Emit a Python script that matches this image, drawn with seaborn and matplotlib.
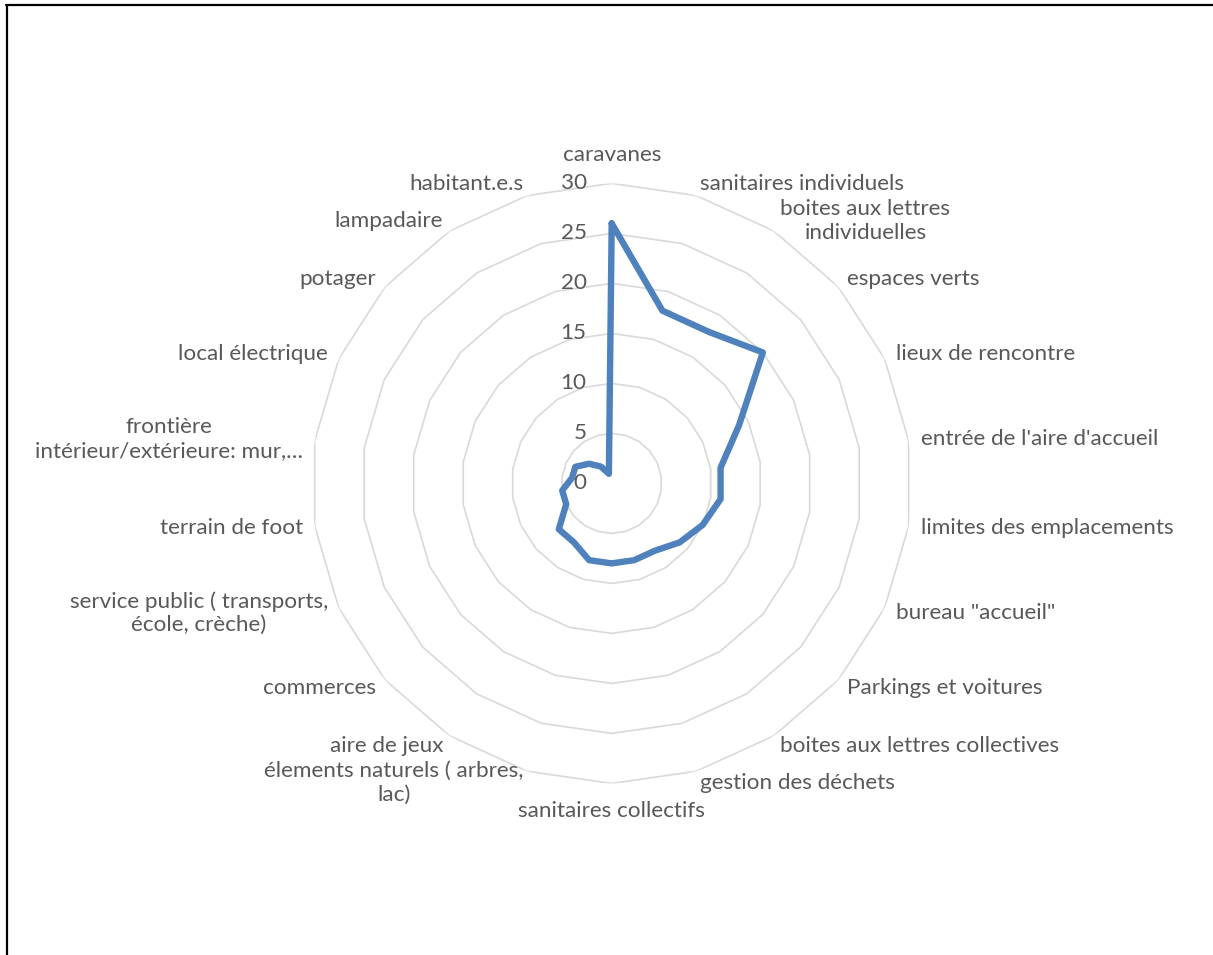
import numpy as np
import pandas as pd
import matplotlib
matplotlib.use("Agg")
import matplotlib.pyplot as plt
from matplotlib.lines import Line2D
import seaborn as sns

# Survey categories, clockwise from the top
categories = [
    "caravanes",
    "sanitaires individuels",
    "boites aux lettres\nindividuelles",
    "espaces verts",
    "lieux de rencontre",
    "entrée de l'aire d'accueil",
    "limites des emplacements",
    "bureau \"accueil\"",
    "Parkings et voitures",
    "boites aux lettres collectives",
    "gestion des déchets",
    "sanitaires collectifs",
    "élements naturels ( arbres,\nlac)",
    "aire de jeux",
    "commerces",
    "service public ( transports,\nécole, crèche)",
    "terrain de foot",
    "frontière\nintérieur/extérieure: mur,…",
    "local électrique",
    "potager",
    "lampadaire",
    "habitant.e.s",
]
counts = [26, 18, 18, 20, 14, 11, 11, 10, 9, 8, 8, 8, 8, 7, 7, 5, 5, 4, 4, 3, 2, 1]
ring_ticks = [0, 5, 10, 15, 20, 25, 30]

sns.set_theme(style="white")
plt.rcParams["font.family"] = ["Lato", "DejaVu Sans"]

TEXT = "#595959"
GRID = "#d9d9d9"
LINE = "#4f81bd"
FS = 16.2

W, H = 1213, 955
fig = plt.figure(figsize=(W / 100, H / 100), dpi=100)
fig.patch.set_facecolor("white")

cx, cy, R = 611.7, 483.4, 300.0
ax = fig.add_axes([(cx - R) / W, (H - cy - R) / H, 2 * R / W, 2 * R / H],
                  projection="polar")
ax.set_theta_zero_location("N")
ax.set_theta_direction(-1)
ax.set_ylim(0, ring_ticks[-1])
ax.grid(False)
ax.set_xticks([])
ax.set_yticks([])
ax.spines["polar"].set_visible(False)
ax.set_facecolor("none")

n = len(categories)
theta = np.arange(n) * 2 * np.pi / n
theta_closed = np.append(theta, 2 * np.pi)

# Polygonal rings at each tick value
for t in ring_ticks[1:]:
    ax.plot(theta_closed, np.full(n + 1, t), color=GRID, lw=1.2, zorder=1)

# Data polygon
df = pd.DataFrame({"theta": theta_closed, "count": counts + counts[:1]})
sns.lineplot(data=df, x="theta", y="count", sort=False, estimator=None,
             ax=ax, color=LINE, lw=4.6, zorder=3)
ax.set_xlabel("")
ax.set_ylabel("")

# Radial tick labels along the vertical axis
for t in ring_ticks:
    ax.annotate(str(t), xy=(0, t), xytext=(-25, 0), textcoords="offset pixels",
                ha="right", va="center", fontsize=FS, color=TEXT,
                annotation_clip=False)

# Category labels just outside the outer ring
for th, lab in zip(theta, categories):
    s, c = np.sin(th), np.cos(th)
    if abs(s) < 0.05:
        ha = "center"
        va = "bottom" if c > 0 else "top"
        pad = 18
    else:
        ha = "left" if s > 0 else "right"
        va = "center"
        pad = 12
    ax.annotate(lab, xy=(th, ring_ticks[-1]), xytext=(pad * s, pad * c),
                textcoords="offset pixels", ha=ha, va=va, fontsize=FS,
                color=TEXT, multialignment="center", annotation_clip=False)

# Chart frame edges
fig.add_artist(Line2D([6 / W, 1], [1 - 5 / H, 1 - 5 / H], transform=fig.transFigure,
                      color="black", lw=1.6))
fig.add_artist(Line2D([7 / W, 7 / W], [0, 1 - 5 / H], transform=fig.transFigure,
                      color="black", lw=1.6))

fig.savefig("out.png", dpi=100, facecolor="white")
